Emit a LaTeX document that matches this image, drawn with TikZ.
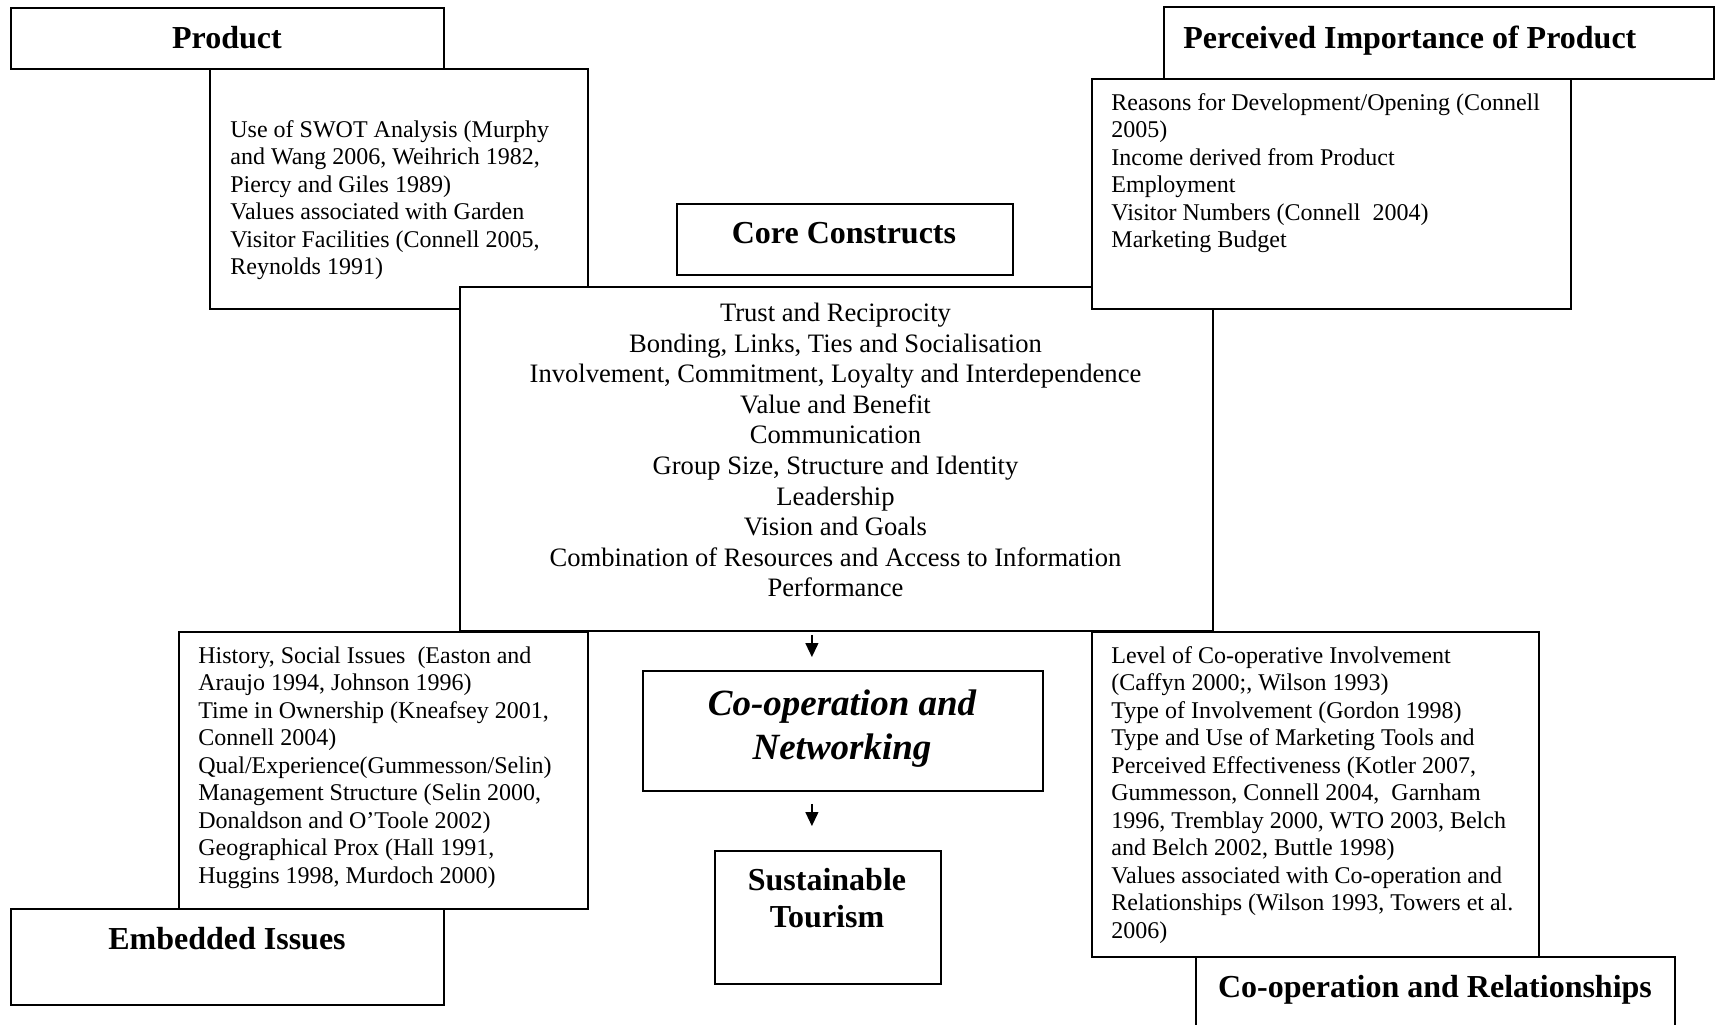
\documentclass[tikz,border=0pt]{standalone}
\usepackage{fontspec}
\setmainfont{Liberation Serif}
\usepackage{tikz}
\usetikzlibrary{arrows.meta}

\newcommand{\headfont}{\fontsize{16}{18.5}\selectfont\bfseries}
\newcommand{\netfont}{\fontsize{18.5}{22}\selectfont\bfseries\itshape}
\newcommand{\citefont}{\fontsize{12}{13.75}\selectfont}
\newcommand{\listfont}{\fontsize{13.3}{15.3}\selectfont}

\begin{document}
\begin{tikzpicture}[x=0.5pt, y=-0.5pt,
	box/.style={draw, line width=0.9pt, fill=white, inner sep=0pt, anchor=north west},
	heading/.style={font=\headfont, inner sep=0pt, anchor=base},
	citetext/.style={font=\citefont, align=left, inner sep=0pt, anchor=north west},
	flow/.style={line width=0.6pt, -{Triangle[length=7pt, width=6.5pt]}}]
		
		\useasboundingbox (0,0) rectangle (1718,1024);
		
		% --- Product ---
		\node[box, minimum width=216.5pt, minimum height=30.5pt] (productbox) at (10,7) {};
		\node[heading] (producthead) at (227,48) {Product};
		\node[box, minimum width=189pt, minimum height=120pt] (productlist) at (209,68) {};
		\node[citetext] (producttext) at (230,117.75)
		{\strut Use of SWOT Analysis (Murphy\\
			and Wang 2006, Weihrich 1982,\\
			Piercy and Giles 1989)\\
			Values associated with Garden\\
			Visitor Facilities (Connell 2005,\\
			Reynolds 1991)};
		
		% --- Perceived Importance ---
		\node[box, minimum width=275pt, minimum height=36pt] (importbox) at (1163,6) {};
		\node[heading, anchor=base west] (importhead) at (1183,48) {Perceived Importance of Product};
		
		% --- Core Constructs ---
		\node[box, minimum width=168pt, minimum height=35.5pt] (corebox) at (676,203) {};
		\node[heading] (corehead) at (844,243) {Core Constructs};
		\node[box, minimum width=376.5pt, minimum height=172pt] (constructs) at (459,286) {};
		\node[font=\listfont, align=center, inner sep=0pt, anchor=north] (constructstext) at (835.5,299.6)
		{\strut Trust and Reciprocity\\
			Bonding, Links, Ties and Socialisation\\
			Involvement, Commitment, Loyalty and Interdependence\\
			Value and Benefit\\
			Communication\\
			Group Size, Structure and Identity\\
			Leadership\\
			Vision and Goals\\
			Combination of Resources and Access to Information\\
			Performance};
		
		% Perceived list sits over the core box
		\node[box, minimum width=239.5pt, minimum height=115pt] (importlist) at (1091,78) {};
		\node[citetext] (importtext) at (1111,90.75)
		{\strut Reasons for Development/Opening (Connell\\
			2005)\\
			Income derived from Product\\
			Employment\\
			Visitor Numbers (Connell~ 2004)\\
			Marketing Budget};
		
		% --- Embedded Issues ---
		\node[box, minimum width=204.5pt, minimum height=138.5pt] (embedlist) at (178,631) {};
		\node[citetext] (embedtext) at (198,643.75)
		{\strut History, Social Issues~ (Easton and\\
			Araujo 1994, Johnson 1996)\\
			Time in Ownership (Kneafsey 2001,\\
			Connell 2004)\\
			Qual/Experience(Gummesson/Selin)\\
			Management Structure (Selin 2000,\\
			Donaldson and O’Toole 2002)\\
			Geographical Prox (Hall 1991,\\
			Huggins 1998, Murdoch 2000)};
		\node[box, minimum width=216.5pt, minimum height=48pt] (embedbox) at (10,908) {};
		\node[heading] (embedhead) at (227,949) {Embedded Issues};
		
		% --- Co-operation and Relationships ---
		\node[box, minimum width=223.5pt, minimum height=162.5pt] (relatelist) at (1091,631) {};
		\node[citetext] (relatetext) at (1111,643.75)
		{\strut Level of Co-operative Involvement\\
			(Caffyn 2000;, Wilson 1993)\\
			Type of Involvement (Gordon 1998)\\
			Type and Use of Marketing Tools and\\
			Perceived Effectiveness (Kotler 2007,\\
			Gummesson, Connell 2004,~ Garnham\\
			1996, Tremblay 2000, WTO 2003, Belch\\
			and Belch 2002, Buttle 1998)\\
			Values associated with Co-operation and\\
			Relationships (Wilson 1993, Towers et al.\\
			2006)};
		\node[box, minimum width=239.5pt, minimum height=40pt] (relatebox) at (1195,956) {};
		\node[heading] (relatehead) at (1435,997) {Co-operation and Relationships};
		
		% --- Outcome chain ---
		\node[box, minimum width=200pt, minimum height=60pt] (network) at (642,670) {};
		\node[font=\netfont, align=center, inner sep=0pt, anchor=north] (networktext) at (842,684.2)
		{\strut Co-operation and\\Networking};
		\node[box, minimum width=113pt, minimum height=66.5pt] (tourism) at (714,850) {};
		\node[font=\headfont, align=center, inner sep=0pt, anchor=north] (tourismtext) at (827,864.1)
		{\strut Sustainable\\Tourism};
		
		% Arrows
		\draw[flow] ([xshift=-12.25pt, yshift=-1.5pt]constructs.south) -- ([xshift=-15.5pt, yshift=6.5pt]network.north);
		\draw[flow] ([xshift=-15.5pt, yshift=-6pt]network.south) -- ([xshift=-8pt, yshift=12pt]tourism.north);
		
	\end{tikzpicture}
\end{document}
